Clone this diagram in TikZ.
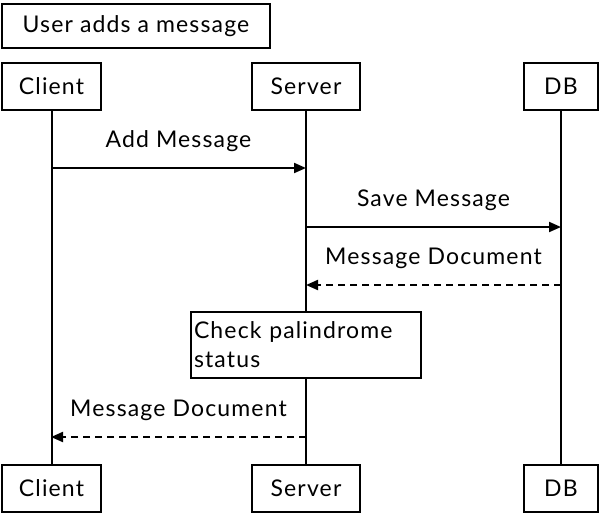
\documentclass[tikz,border=0pt]{standalone}
\usepackage{fontspec}
\setmainfont[LetterSpace=5]{Lato}
\usetikzlibrary{arrows.meta,positioning}
\tikzset{
  actor/.style={draw,line width=2pt,minimum height=47pt,inner sep=0pt,font=\fontsize{23}{26}\selectfont},
  lifeline/.style={line width=2pt},
  msg/.style={line width=2pt,-{Triangle[length=12pt,width=10pt]}},
  reply/.style={msg,dash pattern=on 7pt off 5pt},
  lbl/.style={font=\fontsize{23}{26}\selectfont,inner sep=0pt},
}
\begin{document}
\begin{tikzpicture}[x=1pt,y=-1pt]
\useasboundingbox (0,0) rectangle (600,515);
\node[actor,minimum width=268pt,minimum height=44pt] (title) at (136,26) {User adds a message};
\node[actor,minimum width=99pt] (c1) at (51.5,86) {Client};
\node[actor,minimum width=108pt] (s1) at (306,86) {Server};
\node[actor,minimum width=74pt] (d1) at (561,86) {DB};
\node[actor,minimum width=99pt] (c2) at (51.5,488.5) {Client};
\node[actor,minimum width=108pt] (s2) at (306,488.5) {Server};
\node[actor,minimum width=74pt] (d2) at (561,488.5) {DB};
\draw[lifeline] (c1) -- (c2);
\draw[lifeline] (s1) -- (s2);
\draw[lifeline] (d1) -- (d2);
\coordinate (a1) at (51,168); \coordinate (b1) at (306,168);
\coordinate (a2) at (306,227); \coordinate (b2) at (561,227);
\coordinate (a3) at (561,285); \coordinate (b3) at (306,285);
\coordinate (a4) at (306,437); \coordinate (b4) at (51,437);
\draw[msg] (a1) -- node[lbl,above=15pt] (l1) {Add Message} (b1);
\draw[msg] (a2) -- node[lbl,above=15pt] (l2) {Save Message} (b2);
\draw[reply] (a3) -- node[lbl,above=15pt] (l3) {Message Document} (b3);
\node[draw,line width=2pt,fill=white,minimum width=230pt,minimum height=66pt,text width=224pt,align=left,inner sep=3pt,font=\fontsize{23}{29}\selectfont] (note) at (306,345) {Check palindrome\\status};
\draw[reply] (a4) -- node[lbl,above=15pt] (l4) {Message Document} (b4);
\end{tikzpicture}
\end{document}
